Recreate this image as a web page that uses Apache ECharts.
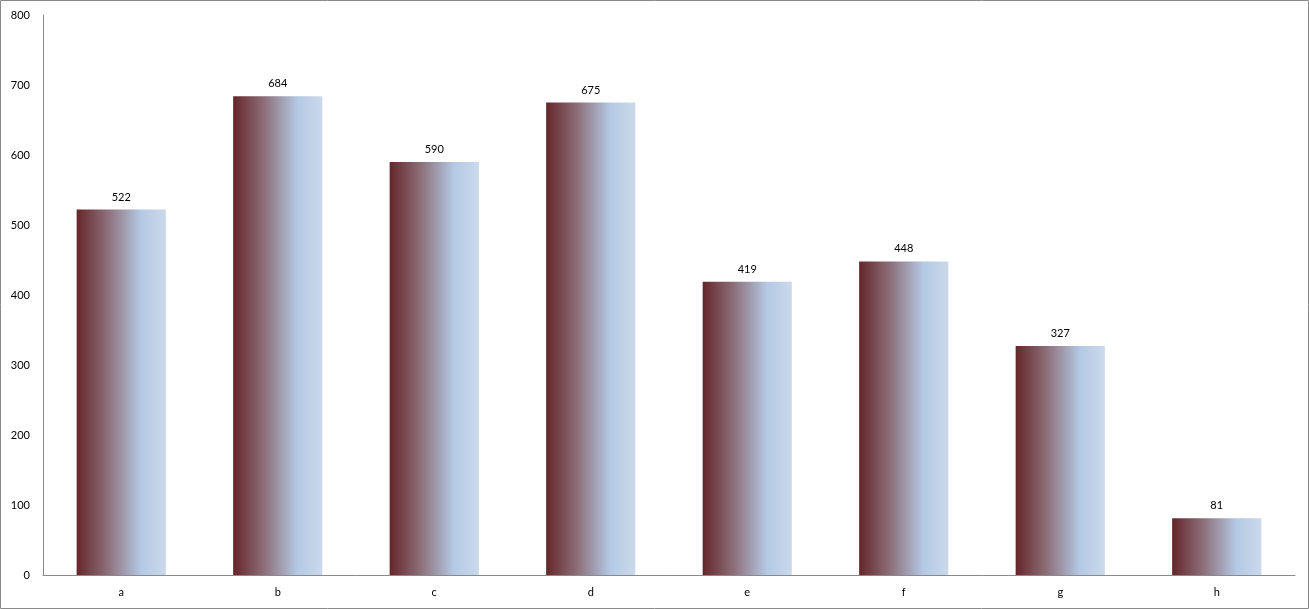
<!DOCTYPE html>
<html>
<head>
<meta charset="utf-8">
<script src="https://cdn.jsdelivr.net/npm/echarts@6/dist/echarts.min.js"></script>
<style>
html,body{margin:0;padding:0;background:#fff;}
#chart{width:1309px;height:609px;}
</style>
</head>
<body>
<div id="chart"></div>
<script>
var categories = ['a','b','c','d','e','f','g','h'];
var values = [522, 684, 590, 675, 419, 448, 327, 81];
var yTicks = [0, 100, 200, 300, 400, 500, 600, 700, 800];

var chart = echarts.init(document.getElementById('chart'), null, {renderer:'canvas'});
var font = 'Lato, "Open Sans", sans-serif';
var grad = new echarts.graphic.LinearGradient(0, 0, 1, 0, [
  {offset: 0, color: '#65262a'},
  {offset: 0.35, color: '#8d6f7a'},
  {offset: 0.72, color: '#b4c9e4'},
  {offset: 1, color: '#cbd9eb'}
]);
chart.setOption({
  animation: false,
  backgroundColor: '#fff',
  graphic: [{
    type: 'rect', silent: true, z: 100,
    shape: {x: 0.5, y: 0.5, width: 1308, height: 608},
    style: {fill: 'none', stroke: '#8a8a8a', lineWidth: 1}
  }],
  grid: {left: 43, right: 14, top: 15, bottom: 34, containLabel: false},
  xAxis: {
    type: 'category',
    data: categories,
    axisLine: {show: true, lineStyle: {color: '#8a8a8a', width: 1}},
    axisTick: {show: false},
    axisLabel: {color: '#000', fontFamily: font, fontSize: 11, margin: 12}
  },
  yAxis: {
    type: 'value',
    min: yTicks[0], max: yTicks[yTicks.length-1], interval: 100,
    axisLine: {show: true, lineStyle: {color: '#8a8a8a', width: 1}},
    axisTick: {show: false},
    splitLine: {show: false},
    axisLabel: {color: '#000', fontFamily: font, fontSize: 11, margin: 13}
  },
  series: [{
    type: 'bar',
    data: values,
    barWidth: '57%',
    itemStyle: {color: grad},
    label: {show: true, position: 'top', distance: 7, color: '#000', fontFamily: font, fontSize: 11}
  }]
});
</script>
</body>
</html>
